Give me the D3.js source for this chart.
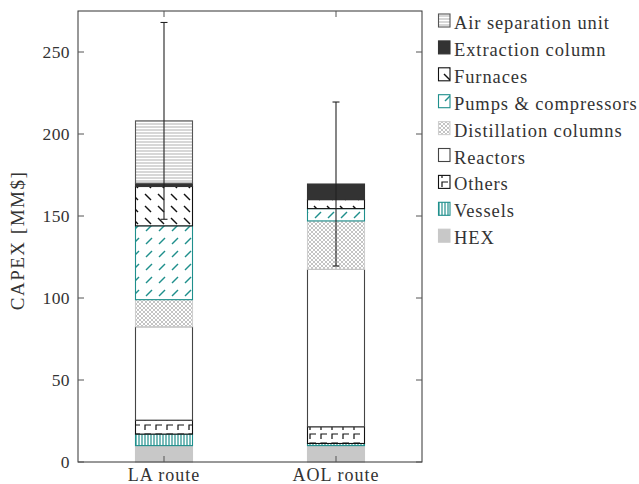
<!DOCTYPE html>
<html>
<head>
<meta charset="utf-8">
<script src="https://cdn.jsdelivr.net/npm/d3@7"></script>
<style>
  html, body { margin: 0; padding: 0; background: #fff; }
  svg { display: block; }
  text { font-family: "Liberation Serif", "DejaVu Serif", serif; fill: #333; }
</style>
</head>
<body>
<svg id="chart" width="639" height="484"></svg>
<script>
// Routes on the x axis
const routes = ["LA route", "AOL route"];

// Stack components, bottom to top
const components = ["HEX", "Vessels", "Others", "Reactors", "Distillation columns",
                    "Pumps & compressors", "Furnaces", "Extraction column", "Air separation unit"];

// CAPEX contribution of each component [MM$], per route
const laValues  = [10, 7, 8.5, 57, 16.5, 45, 24, 2, 38];
const aolValues = [10, 1.3, 10.2, 96, 29.5, 7.5, 5.5, 9.5, 0];

// Uncertainty on the total [MM$]
const errValues = [60, 50];

const yTicks = [0, 50, 100, 150, 200, 250];

const svg = d3.select("#chart");
const frame = { left: 78, right: 422, top: 11, bottom: 462 };

const x = d3.scalePoint().domain(routes).range([frame.left, frame.right]).padding(0.5);
const y = d3.scaleLinear().domain([0, 275]).range([frame.bottom, frame.top]);
const barW = 57;

const teal = "#1f8f8c";

// ---- fill patterns ----
const defs = svg.append("defs");
function pat(id, w, h, draw) {
  const p = defs.append("pattern").attr("id", id).attr("patternUnits", "userSpaceOnUse")
    .attr("width", w).attr("height", h);
  draw(p);
}
// horizontal lines (air separation unit)
pat("p-asu", 6, 3, p => {
  p.append("rect").attr("width", 6).attr("height", 3).attr("fill", "#fff");
  p.append("line").attr("x1", 0).attr("x2", 6).attr("y1", 1).attr("y2", 1)
    .attr("stroke", "#bdbdbd").attr("stroke-width", 1.2);
});
// short back-slash dashes (furnaces)
pat("p-furn", 13, 12, p => {
  p.append("rect").attr("width", 13).attr("height", 12).attr("fill", "#fff");
  p.append("line").attr("x1", 2).attr("y1", 2).attr("x2", 8).attr("y2", 8)
    .attr("stroke", "#111").attr("stroke-width", 1.4);
});
// short slash dashes (pumps & compressors)
pat("p-pump", 13, 13, p => {
  p.append("rect").attr("width", 13).attr("height", 13).attr("fill", "#fff");
  p.append("line").attr("x1", 3).attr("y1", 10).attr("x2", 9).attr("y2", 4)
    .attr("stroke", teal).attr("stroke-width", 1.4);
});
// fine crosshatch (distillation columns)
pat("p-dist", 4, 4, p => {
  p.append("rect").attr("width", 4).attr("height", 4).attr("fill", "#fff");
  p.append("path").attr("d", "M0,0L4,4M4,0L0,4").attr("stroke", "#c4c4c4").attr("stroke-width", 1);
});
// hook shapes (others)
pat("p-oth", 11, 9, p => {
  p.append("rect").attr("width", 11).attr("height", 9).attr("fill", "#fff");
  p.append("path").attr("d", "M2,7V2H8").attr("fill", "none").attr("stroke", "#111").attr("stroke-width", 1.2);
});
// vertical lines (vessels)
pat("p-ves", 3, 4, p => {
  p.append("rect").attr("width", 3).attr("height", 4).attr("fill", "#fff");
  p.append("line").attr("x1", 1).attr("x2", 1).attr("y1", 0).attr("y2", 4)
    .attr("stroke", teal).attr("stroke-width", 1.2);
});

// style for each component, same order as components
const styles = [
  { fill: "#c8c8c8", stroke: "#c8c8c8" },
  { fill: "url(#p-ves)", stroke: teal },
  { fill: "url(#p-oth)", stroke: "#111" },
  { fill: "#fff", stroke: "#444" },
  { fill: "url(#p-dist)", stroke: "#cfcfcf" },
  { fill: "url(#p-pump)", stroke: teal },
  { fill: "url(#p-furn)", stroke: "#111" },
  { fill: "#333", stroke: "#333" },
  { fill: "url(#p-asu)", stroke: "#555" }
];

// ---- stacked bars ----
const table = routes.map((r, i) => {
  const vals = i === 0 ? laValues : aolValues;
  const row = { route: r };
  components.forEach((c, j) => row[c] = vals[j]);
  return row;
});
const series = d3.stack().keys(components)(table);

const gBars = svg.append("g");
series.forEach((s, j) => {
  gBars.append("g").selectAll("rect")
    .data(s.filter(d => d[1] - d[0] > 0))
    .join("rect")
    .attr("x", d => x(d.data.route) - barW / 2)
    .attr("width", barW)
    .attr("y", d => y(d[1]))
    .attr("height", d => y(d[0]) - y(d[1]))
    .attr("fill", styles[j].fill)
    .attr("stroke", styles[j].stroke)
    .attr("stroke-width", 1.1);
});

// ---- error bars on totals ----
const totals = routes.map((r, i) => ({
  route: r,
  total: d3.sum(i === 0 ? laValues : aolValues),
  err: errValues[i]
}));
const gErr = svg.append("g").attr("stroke", "#222").attr("stroke-width", 1.1);
totals.forEach(t => {
  const cx = x(t.route);
  gErr.append("line").attr("x1", cx).attr("x2", cx)
    .attr("y1", y(t.total + t.err)).attr("y2", y(t.total - t.err));
  [t.total + t.err, t.total - t.err].forEach(v => {
    gErr.append("line").attr("x1", cx - 3.5).attr("x2", cx + 3.5)
      .attr("y1", y(v)).attr("y2", y(v));
  });
});

// ---- frame and axes ----
svg.append("rect").attr("x", frame.left).attr("y", frame.top)
  .attr("width", frame.right - frame.left).attr("height", frame.bottom - frame.top)
  .attr("fill", "none").attr("stroke", "#333").attr("stroke-width", 1);

const gY = svg.append("g");
yTicks.forEach(v => {
  gY.append("line").attr("x1", frame.left).attr("x2", frame.left + 6)
    .attr("y1", y(v)).attr("y2", y(v)).attr("stroke", "#555");
  gY.append("line").attr("x1", frame.right - 6).attr("x2", frame.right)
    .attr("y1", y(v)).attr("y2", y(v)).attr("stroke", "#555");
  gY.append("text").attr("x", frame.left - 8).attr("y", y(v)).attr("dy", "0.34em")
    .attr("text-anchor", "end").attr("font-size", 17.5).attr("letter-spacing", 0.4).text(v);
});
const gX = svg.append("g");
routes.forEach(r => {
  gX.append("line").attr("x1", x(r)).attr("x2", x(r))
    .attr("y1", frame.bottom).attr("y2", frame.bottom - 6).attr("stroke", "#555");
  gX.append("line").attr("x1", x(r)).attr("x2", x(r))
    .attr("y1", frame.top).attr("y2", frame.top + 6).attr("stroke", "#555");
  gX.append("text").attr("x", x(r)).attr("y", 481).attr("text-anchor", "middle")
    .attr("font-size", 18).attr("letter-spacing", 1).text(r);
});

svg.append("text")
  .attr("transform", `translate(24,${(frame.top + frame.bottom) / 2 + 4}) rotate(-90)`)
  .attr("text-anchor", "middle").attr("font-size", 19).attr("letter-spacing", 1.5).text("CAPEX [MM$]");

// ---- legend (top to bottom) ----
const legendOrder = components.slice().reverse();
const legendStyles = styles.slice().reverse();
const gL = svg.append("g");
legendOrder.forEach((name, i) => {
  const yy = 14 + i * 26.9;
  gL.append("rect").attr("x", 438.5).attr("y", yy).attr("width", 11.5).attr("height", 13)
    .attr("fill", legendStyles[i].fill).attr("stroke", legendStyles[i].stroke).attr("stroke-width", 1.1);
  gL.append("text").attr("x", 454).attr("y", yy + 15).attr("font-size", 18.5)
    .attr("letter-spacing", 0.9).text(name);
});
</script>
</body>
</html>
